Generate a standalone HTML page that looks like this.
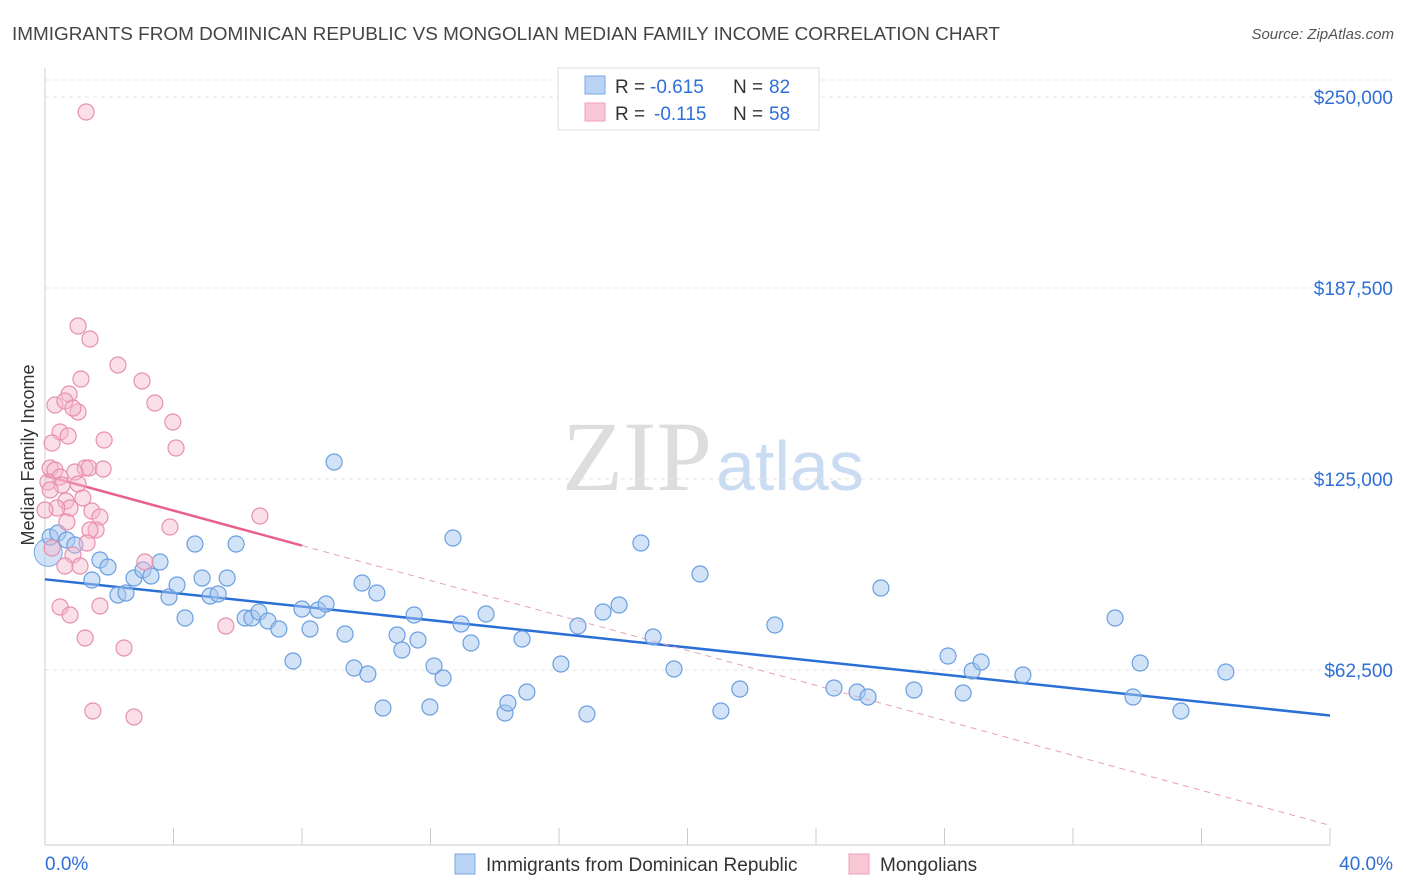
<!DOCTYPE html>
<html><head><meta charset="utf-8">
<style>
body{margin:0;background:#fff;font-family:"Liberation Sans",sans-serif;}
svg{display:block}
</style></head>
<body>
<svg id="chart" width="1406" height="892">
<text x="12" y="40" font-size="18" fill="#444" textLength="988" lengthAdjust="spacingAndGlyphs">IMMIGRANTS FROM DOMINICAN REPUBLIC VS MONGOLIAN MEDIAN FAMILY INCOME CORRELATION CHART</text>
<text x="1394" y="39" font-size="15" fill="#555" font-style="italic" text-anchor="end">Source: ZipAtlas.com</text>
<text x="34" y="455" font-size="18" fill="#333" transform="rotate(-90 34 455)" text-anchor="middle">Median Family Income</text>
<text x="712" y="490" font-size="100" fill="#ddd" text-anchor="end" font-family="Liberation Serif">ZIP</text>
<text x="716" y="490" font-size="70" fill="#c9dcf2">atlas</text>
<g id="grid"></g><g id="axes"></g><g id="trend"></g><g id="pts"></g>
<g>
<rect x="558" y="68" width="261" height="62" fill="#fff" stroke="#ddd"/>
<rect x="585" y="76" width="20" height="18" fill="#b9d3f5" stroke="#7aaae6"/>
<rect x="585" y="103" width="20" height="18" fill="#f9c6d6" stroke="#eda0b9"/>
<g font-size="19">
<text x="615" y="93" fill="#333">R =</text><text x="650" y="93" fill="#2f6fd6">-0.615</text>
<text x="733" y="93" fill="#333">N =</text><text x="769" y="93" fill="#2f6fd6">82</text></g>
<g font-size="19">
<text x="615" y="120" fill="#333">R =</text><text x="654" y="120" fill="#2f6fd6">-0.115</text>
<text x="733" y="120" fill="#333">N =</text><text x="769" y="120" fill="#2f6fd6">58</text></g>
</g>
<g>
<rect x="455" y="854" width="20" height="20" fill="#b9d3f5" stroke="#7aaae6"/>
<text x="486" y="871" font-size="19" fill="#333">Immigrants from Dominican Republic</text>
<rect x="849" y="854" width="20" height="20" fill="#f9c6d6" stroke="#eda0b9"/>
<text x="880" y="871" font-size="19" fill="#333">Mongolians</text>
</g>
</svg>
<script>
const yTicks=[62500,125000,187500,250000];
const yTickLabels=["$62,500","$125,000","$187,500","$250,000"];
const xTickVals=[0,4,8,12,16,20,24,28,32,36,40];
const bluePx=[[50,537],[58,533],[67,540],[75,545],[92,580],[100,560],[108,567],[118,595],[126,593],[134,578],[143,570],[151,576],[160,562],[169,597],[177,585],[185,618],[195,544],[202,578],[210,596],[218,594],[227,578],[236,544],[245,618],[252,618],[259,612],[268,621],[279,629],[293,661],[302,609],[310,629],[318,610],[326,604],[334,462],[345,634],[354,668],[362,583],[368,674],[377,593],[383,708],[397,635],[402,650],[414,615],[418,640],[430,707],[434,666],[443,678],[453,538],[461,624],[471,643],[486,614],[505,713],[508,703],[522,639],[527,692],[561,664],[578,626],[587,714],[603,612],[619,605],[641,543],[653,637],[674,669],[700,574],[721,711],[740,689],[775,625],[834,688],[857,692],[868,697],[881,588],[914,690],[948,656],[963,693],[972,671],[981,662],[1023,675],[1115,618],[1133,697],[1140,663],[1181,711],[1226,672]];
const pinkPx=[[86,112],[78,326],[90,339],[118,365],[81,379],[142,381],[69,394],[55,405],[65,401],[155,403],[78,412],[73,408],[173,422],[104,440],[60,432],[68,436],[52,443],[176,448],[50,468],[55,470],[85,468],[89,468],[75,472],[60,477],[48,482],[62,485],[103,469],[78,484],[50,490],[66,501],[83,498],[70,508],[57,508],[92,511],[100,517],[45,510],[67,522],[170,527],[260,516],[96,530],[90,530],[87,543],[73,555],[52,548],[145,562],[65,566],[80,566],[60,607],[100,606],[70,615],[226,626],[85,638],[124,648],[93,711],[134,717]];
const blueX=bluePx.map(p=>+((p[0]-45)/1285*40).toFixed(2));
const blueY=bluePx.map(p=>Math.round((861-p[1])/191*62500));
const pinkX=pinkPx.map(p=>+((p[0]-45)/1285*40).toFixed(2));
const pinkY=pinkPx.map(p=>Math.round((861-p[1])/191*62500));
const X=v=>45+v/40*1285, Y=v=>861-v/62500*191;
const ns="http://www.w3.org/2000/svg";
function mk(t,a,parent){const e=document.createElementNS(ns,t);for(const k in a)e.setAttribute(k,a[k]);document.getElementById(parent).appendChild(e);return e;}
yTicks.forEach((v,i)=>{
 const l=mk('line',{x1:45,x2:1394,y1:Y(v),y2:Y(v),stroke:'#e4e4e4','stroke-dasharray':'4,4'},'grid');
 
 
 const t=mk('text',{x:1393,y:Y(v)+7,'font-size':19,fill:'#2f6fd6','text-anchor':'end'},'grid');
 t.textContent=yTickLabels[i];
 
 
});
const g0=mk('line',{x1:45,x2:1394,y1:80,y2:80,stroke:'#e4e4e4','stroke-dasharray':'4,4'},'grid');


const ya=mk('line',{x1:45,x2:45,y1:68,y2:845,stroke:'#ccc'},'axes');


const xa=mk('line',{x1:45,x2:1330,y1:845,y2:845,stroke:'#ccc'},'axes');


xTickVals.forEach(v=>{const t=mk('line',{x1:X(v),x2:X(v),y1:828,y2:845,stroke:'#ccc'},'axes');
 
 });
const xl0=mk('text',{x:45,y:870,'font-size':19,fill:'#2f6fd6'},'axes');xl0.textContent='0.0%';


const xl1=mk('text',{x:1393,y:870,'font-size':19,fill:'#2f6fd6','text-anchor':'end'},'axes');xl1.textContent='40.0%';


function fit(xs,ys){const n=xs.length,mx=xs.reduce((a,b)=>a+b)/n,my=ys.reduce((a,b)=>a+b)/n;let sxy=0,sxx=0;xs.forEach((x,i)=>{sxy+=(x-mx)*(ys[i]-my);sxx+=(x-mx)**2});const b=sxy/sxx;return[my-b*mx,b];}
const [ba,bb]=fit(blueX,blueY);
const bl=mk('line',{x1:X(0),y1:Y(ba),x2:X(40),y2:Y(ba+bb*40),stroke:'#2a6fd6','stroke-width':2.5},'trend');


const [pa,pb]=fit(pinkX,pinkY);
const pl=mk('line',{x1:X(0),y1:Y(pa),x2:X(8),y2:Y(pa+pb*8),stroke:'#e8608c','stroke-width':2.5},'trend');


const pd=mk('line',{x1:X(8),y1:Y(pa+pb*8),x2:X(40),y2:Y(pa+pb*40),stroke:'#e8a0b8','stroke-width':1,'stroke-dasharray':'6,5'},'trend');


const big=mk('circle',{cx:X(0.1),cy:Y(101000),r:14,fill:'rgba(168,200,240,0.5)',stroke:'#7aaae6'},'pts');


blueX.forEach((x,i)=>{const c=mk('circle',{cx:X(x),cy:Y(blueY[i]),r:8,fill:'rgba(168,200,240,0.5)',stroke:'#6a9fe0','stroke-width':1.2},'pts');
 
 });
pinkX.forEach((x,i)=>{const c=mk('circle',{cx:X(x),cy:Y(pinkY[i]),r:8,fill:'rgba(245,184,204,0.45)',stroke:'#e890ad','stroke-width':1.2},'pts');
 
 });
</script>
</body></html>
